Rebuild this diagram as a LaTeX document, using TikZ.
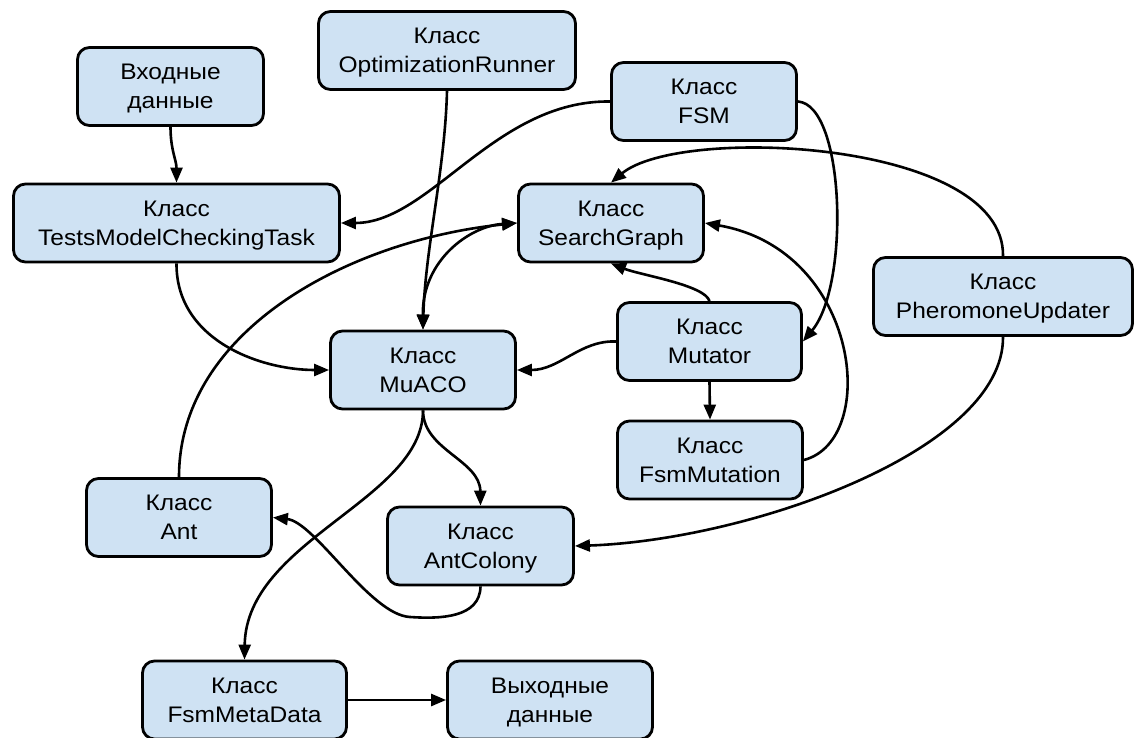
\documentclass[tikz,border=0pt]{standalone}
\usepackage{fontspec}
\setmainfont{Liberation Sans}[FakeStretch=1.09]
\usetikzlibrary{arrows.meta}
\definecolor{boxblue}{HTML}{CFE2F3}
\newcommand\twol[2]{#1\\\smash{#2}}
\begin{document}
\begin{tikzpicture}[x=1pt,y=-1pt,
  box/.style={draw=black, line width=2.8pt, fill=boxblue, rounded corners=12pt,
    align=center, inner sep=0pt, minimum height=78pt,
    font=\fontsize{22.5}{29}\selectfont},
  conn/.style={line width=2.6pt, -{Triangle[length=15pt,width=12pt]}},
  biconn/.style={line width=2.6pt, {Triangle[length=15pt,width=12pt]}-{Triangle[length=15pt,width=12pt]}}]
\useasboundingbox (0,0) rectangle (1137,738);
\clip (0,0) rectangle (1137,738);
\fill[white] (0,0) rectangle (1137,738);

\node[box, minimum width=186pt] (in) at (170.5,86.5) {\twol{Входные}{данные}};
\node[box, minimum width=257pt] (opt) at (447,50.5) {\twol{Класс}{OptimizationRunner}};
\node[box, minimum width=185pt] (fsm) at (704,101.5) {\twol{Класс}{FSM}};
\node[box, minimum width=326pt] (tmct) at (176.5,223) {\twol{Класс}{TestsModelCheckingTask}};
\node[box, minimum width=185pt] (sg) at (611,223) {\twol{Класс}{SearchGraph}};
\node[box, minimum width=259pt] (pu) at (1003,296.5) {\twol{Класс}{PheromoneUpdater}};
\node[box, minimum width=185pt] (muaco) at (423,370) {\twol{Класс}{MuACO}};
\node[box, minimum width=184pt] (mut) at (709.5,341.5) {\twol{Класс}{Mutator}};
\node[box, minimum width=185pt] (fsmmut) at (710,460) {\twol{Класс}{FsmMutation}};
\node[box, minimum width=185pt] (ant) at (179,517.5) {\twol{Класс}{Ant}};
\node[box, minimum width=186pt] (antcol) at (480.5,546) {\twol{Класс}{AntColony}};
\node[box, minimum width=204pt] (meta) at (244.5,700) {\twol{Класс}{FsmMetaData}};
\node[box, minimum width=205pt] (out) at (550,700) {\twol{Выходные}{данные}};

\draw[conn] (in.south) .. controls (170.5,150) and (176.5,160) .. (tmct.north);
\draw[conn] (opt.south) .. controls (445,170) and (425,250) .. (muaco.north);
\draw[conn] (fsm.west) .. controls (495,100) and (430,223) .. (tmct.east);
\draw[conn] (fsm.east) .. controls (845,105) and (850,285) .. (mut.east);
\draw[conn] (pu.north) .. controls (1005,140) and (680,125) .. (sg.north);
\draw[conn] (pu.south) .. controls (1004,450) and (750,540) .. (antcol.east);
\draw[conn] (tmct.south) .. controls (176,340) and (260,370) .. (muaco.west);
\draw[conn] (ant.north) .. controls (179,330) and (350,240) .. (sg.west);
\draw[biconn] (muaco.north) .. controls (422,260) and (470,226) .. (sg.west);
\draw[conn] (mut.west) .. controls (580,340) and (560,370) .. (muaco.east);
\draw[conn] (mut.north) .. controls (705,285) and (640,275) .. (sg.south);
\draw[conn] (mut.south) -- (fsmmut.north);
\draw[conn] (fsmmut.east) .. controls (880,440) and (860,250) .. (sg.east);
\draw[conn] (muaco.south) .. controls (423,450) and (480,460) .. (antcol.north);
\draw[conn] (muaco.south) .. controls (423,500) and (246,540) .. (meta.north);
\draw[conn] (antcol.south) .. controls (480,618) and (440,619) .. (410,617)
  .. controls (370,615) and (315,522) .. (ant.east);
\draw[conn] (meta.east) -- (out.west);
\end{tikzpicture}
\end{document}
